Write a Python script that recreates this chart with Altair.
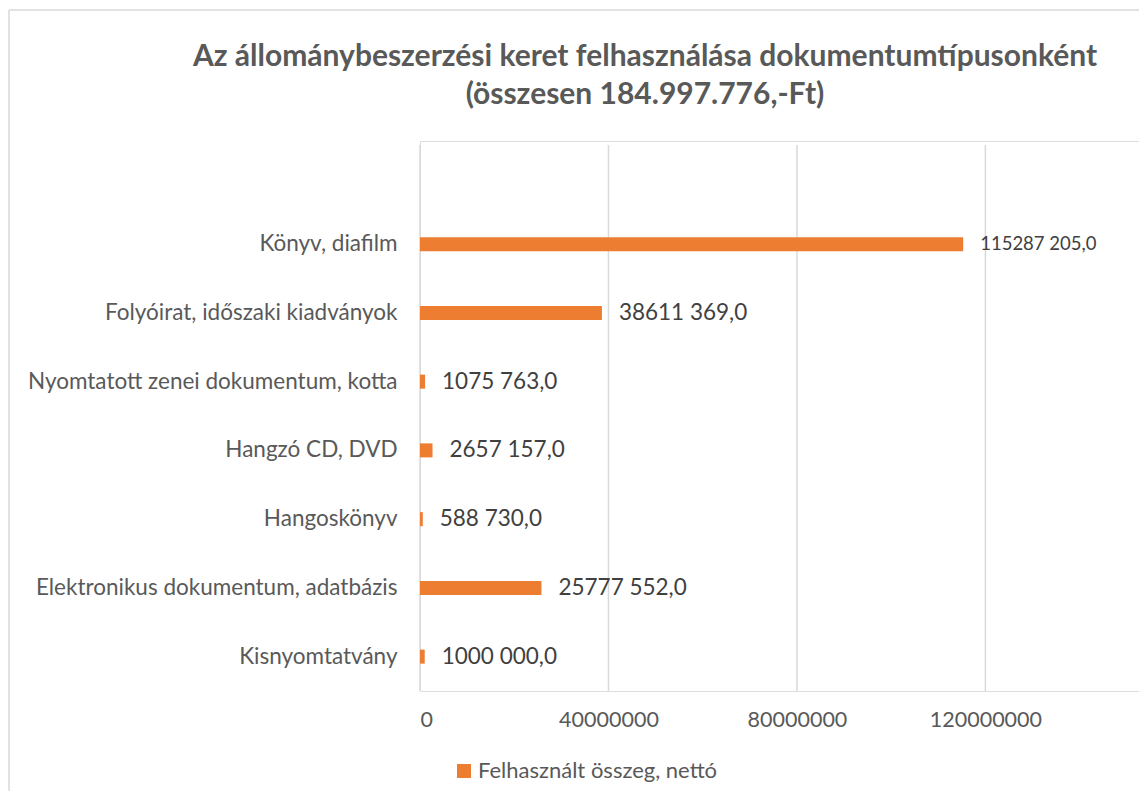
import altair as alt
import pandas as pd

categories = [
    "Könyv, diafilm",
    "Folyóirat, időszaki kiadványok",
    "Nyomtatott zenei dokumentum, kotta",
    "Hangzó CD, DVD",
    "Hangoskönyv",
    "Elektronikus dokumentum, adatbázis",
    "Kisnyomtatvány",
]
values = [115287205.0, 38611369.0, 1075763.0, 2657157.0, 588730.0, 25777552.0, 1000000.0]
value_labels = [
    "115287 205,0",
    "38611 369,0",
    "1075 763,0",
    "2657 157,0",
    "588 730,0",
    "25777 552,0",
    "1000 000,0",
]
x_ticks = [0, 40000000, 80000000, 120000000]
series_name = "Felhasznált összeg, nettó"
title_line_1 = "Az állománybeszerzési keret felhasználása dokumentumtípusonként"
title_line_2 = "(összesen 184.997.776,-Ft)"

df = pd.DataFrame({"kategoria": categories, "ertek": values, "cimke": value_labels})
df["sorozat"] = series_name
grid_df = pd.DataFrame({"ertek": x_ticks})

FONT = "Lato"
GREY = "#595959"
ORANGE = "#ED7D31"

x_scale = alt.Scale(domain=[0, 152600000], nice=False, zero=True)
x_axis = alt.Axis(
    values=x_ticks,
    format="d",
    title=None,
    grid=False,
    domain=False,
    ticks=False,
    labelFontSize=21.5,
    labelColor=GREY,
    labelFont=FONT,
    labelPadding=18,
)

y_enc = alt.Y(
    "kategoria:N",
    sort=categories,
    scale=alt.Scale(paddingInner=0, paddingOuter=0.5, align=1),
    axis=alt.Axis(
        title=None,
        domain=False,
        ticks=False,
        grid=False,
        labelFontSize=22.5,
        labelColor=GREY,
        labelFont=FONT,
        labelPadding=23,
        labelLimit=500,
    ),
)

gridlines = alt.Chart(grid_df).mark_rule(color="#d9d9d9", strokeWidth=1.5).encode(
    x=alt.X("ertek:Q", scale=x_scale, axis=x_axis),
    y=alt.value(4),
    y2=alt.value(550),
)

bars = alt.Chart(df).mark_bar(size=14).encode(
    x=alt.X("ertek:Q", scale=x_scale, axis=x_axis),
    y=y_enc,
    color=alt.Color(
        "sorozat:N",
        scale=alt.Scale(domain=[series_name], range=[ORANGE]),
        legend=alt.Legend(
            title=None,
            orient="none",
            legendX=33,
            legendY=619,
            symbolType="square",
            symbolSize=196,
            symbolStrokeWidth=0,
            labelFontSize=22,
            labelColor=GREY,
            labelFont=FONT,
            labelOffset=3,
            labelLimit=500,
        ),
    ),
)

labels = alt.Chart(df).mark_text(align="left", baseline="middle", dx=17, font=FONT, color="#404040").encode(
    x=alt.X("ertek:Q", scale=x_scale, axis=x_axis),
    y=y_enc,
    text="cimke:N",
    size=alt.condition(alt.datum.kategoria == categories[0], alt.value(18.5), alt.value(22.5)),
)

title_df = pd.DataFrame({"t": [0]})
title_style = dict(font=FONT, fontSize=30, fontWeight="bold", color=GREY, align="center", baseline="middle")
title_1 = alt.Chart(title_df).mark_text(text=title_line_1, **title_style).encode(
    x=alt.value(225), y=alt.value(-84)
)
title_2 = alt.Chart(title_df).mark_text(text=title_line_2, **title_style).encode(
    x=alt.value(225), y=alt.value(-46)
)

border_df = pd.DataFrame({"b": [0]})
left_border = alt.Chart(border_df).mark_rule(color="#d9d9d9", strokeWidth=1.5).encode(
    x=alt.value(-411), y=alt.value(-131), y2=alt.value(700)
)
top_border = alt.Chart(border_df).mark_rule(color="#d9d9d9", strokeWidth=1.5).encode(
    x=alt.value(-411), x2=alt.value(730), y=alt.value(-131)
)

chart = (
    alt.layer(left_border, top_border, gridlines, bars, labels, title_1, title_2)
    .properties(
        width=719,
        height=550,
        autosize=alt.AutoSizeParams(type="none"),
        padding={"left": 412, "top": 133, "right": 0, "bottom": 100},
    )
    .configure_view(strokeOpacity=0, strokeWidth=0, fill="white")
    .configure_axis(domain=False, grid=False, ticks=False)
    .configure(background="white")
)

chart.save("out.html", embed_options={"renderer": "svg", "actions": False})
